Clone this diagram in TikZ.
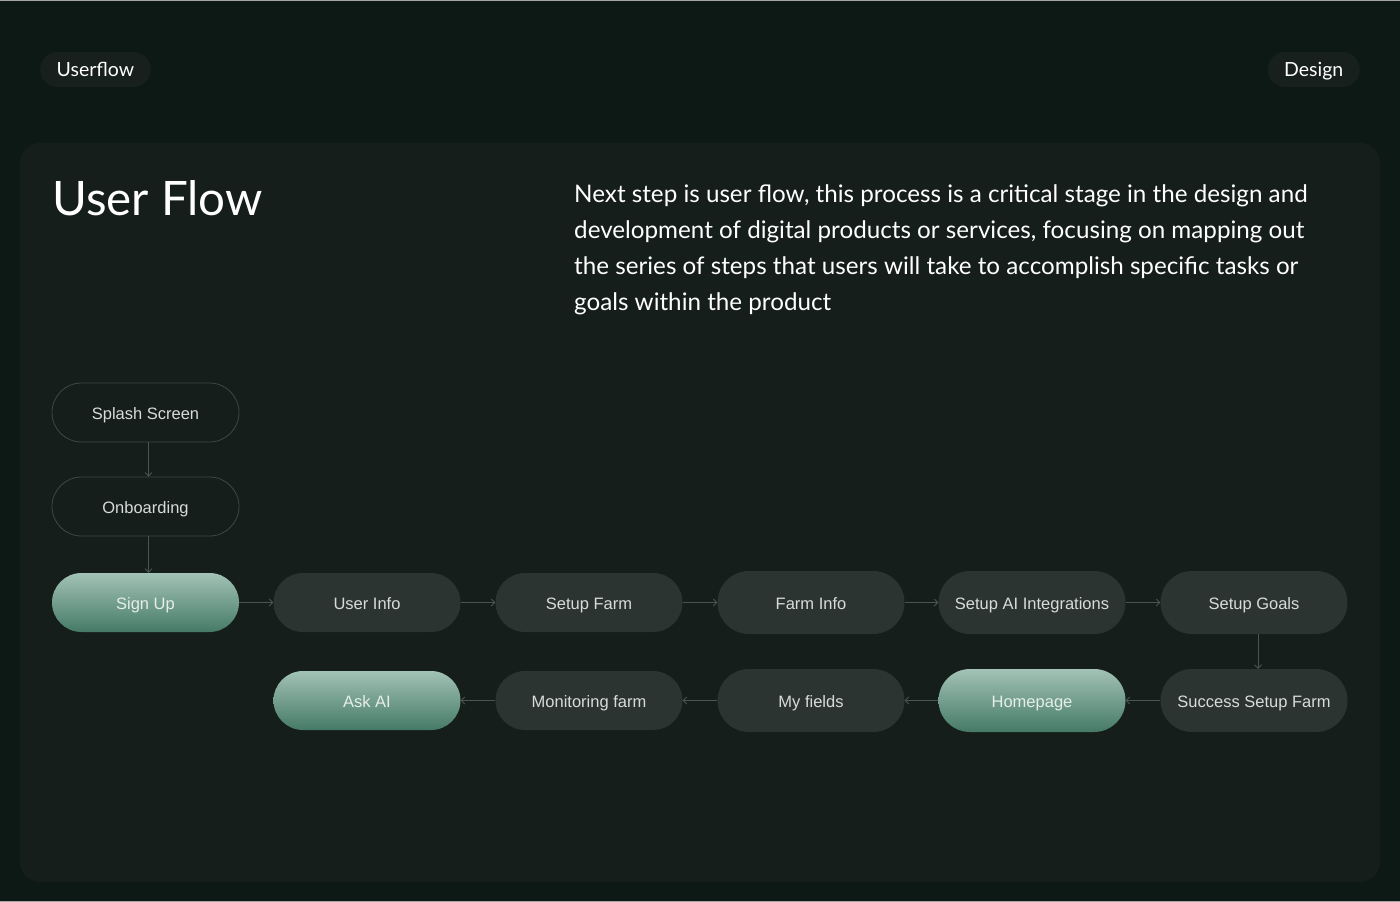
\documentclass[tikz,border=0pt]{standalone}
\usepackage{fontspec}
\setmainfont{Lato}
\newfontfamily\nodefont{Liberation Sans}
\usetikzlibrary{arrows.meta,positioning}
\definecolor{bgc}{HTML}{0C1915}
\definecolor{panelc}{HTML}{161E1B}
\definecolor{pillc}{HTML}{18201D}
\definecolor{nodec}{HTML}{2C3431}
\definecolor{edgec}{HTML}{3E4844}
\definecolor{linec}{HTML}{4A5450}
\definecolor{txtc}{HTML}{D6DCD9}
\definecolor{gtxt}{HTML}{E6EEEA}
\definecolor{gtop}{HTML}{A2C2B6}
\definecolor{gbot}{HTML}{457A66}
\tikzset{
  x=1pt, y=-1pt,
  flownode/.style={rounded corners=29.5pt, minimum width=187pt, minimum height=59pt,
    font=\nodefont\fontsize{16.5}{18}\selectfont, text=txtc, inner sep=0pt,
    text height=13pt, text depth=0pt},
  darknode/.style={flownode, fill=nodec},
  tallnode/.style={darknode, minimum height=63pt, rounded corners=31.5pt},
  outlinenode/.style={flownode, draw=edgec, line width=0.8pt},
  greennode/.style={flownode, top color=gtop, bottom color=gbot, shading angle=0, text=gtxt},
  tallgreen/.style={greennode, minimum height=63pt, rounded corners=31.5pt},
  conn/.style={draw=linec, line width=0.8pt, -{Straight Barb[length=3.5pt,width=7pt]}},
  tag/.style={fill=pillc, rounded corners=17.5pt, minimum height=35pt, inner xsep=16.5pt,
    inner ysep=0pt, text height=14pt, text depth=0pt,
    font=\fontsize{19.5}{22}\selectfont, text=white}
}
\begin{document}
\begin{tikzpicture}
\useasboundingbox (0,0) rectangle (1400,902);
\fill[bgc] (0,0) rectangle (1400,902);
\draw[color=gray!70, line width=1.2pt] (0,0.6) -- (1400,0.6);
\draw[color=gray!70, line width=1.2pt] (0,901.4) -- (1400,901.4);
\fill[panelc, rounded corners=20pt] (20,143) rectangle (1380,882);

\node[tag, anchor=west] (tagl) at (40,69.5) {Userflow};
\node[tag, anchor=east] (tagr) at (1360,69.5) {Design};

\node[anchor=base west, inner sep=0pt, text=white, font=\fontsize{47.5}{54}\selectfont] (title) at (52,215) {User Flow};
\node[anchor=north west, inner sep=0pt, text=white, align=left, font=\fontsize{24.2}{36}\selectfont] (para) at (574,184)
 {Next step is user flow, this process is a critical stage in the design and\\
  development of digital products or services, focusing on mapping out\\
  the series of steps that users will take to accomplish specific tasks or\\
  goals within the product};

\node[outlinenode] (splash) at (145.5,412.5) {Splash Screen};
\node[outlinenode] (onb) at (145.5,506.5) {Onboarding};
\node[greennode] (signup) at (145.5,602.5) {Sign Up};
\node[darknode] (uinfo) at (367,602.5) {User Info};
\node[darknode] (sfarm) at (589,602.5) {Setup Farm};
\node[tallnode] (finfo) at (811,602.5) {Farm Info};
\node[tallnode] (sai) at (1032,602.5) {Setup AI Integrations};
\node[tallnode] (sgoals) at (1254,602.5) {Setup Goals};

\node[greennode] (askai) at (367,700.5) {Ask AI};
\node[darknode] (mon) at (589,700.5) {Monitoring farm};
\node[tallnode] (myf) at (811,700.5) {My fields};
\node[tallgreen] (home) at (1032,700.5) {Homepage};
\node[tallnode] (succ) at (1254,700.5) {Success Setup Farm};

\draw[conn] ([xshift=3pt]splash.south) -- ([xshift=3pt]onb.north);
\draw[conn] ([xshift=3pt]onb.south) -- ([xshift=3pt]signup.north);
\draw[conn] (signup) -- (uinfo);
\draw[conn] (uinfo) -- (sfarm);
\draw[conn] (sfarm) -- (finfo);
\draw[conn] (finfo) -- (sai);
\draw[conn] (sai) -- (sgoals);
\draw[conn] ([xshift=4pt]sgoals.south) -- ([xshift=4pt]succ.north);
\draw[conn] (succ) -- (home);
\draw[conn] (home) -- (myf);
\draw[conn] (myf) -- (mon);
\draw[conn] (mon) -- (askai);
\end{tikzpicture}
\end{document}
